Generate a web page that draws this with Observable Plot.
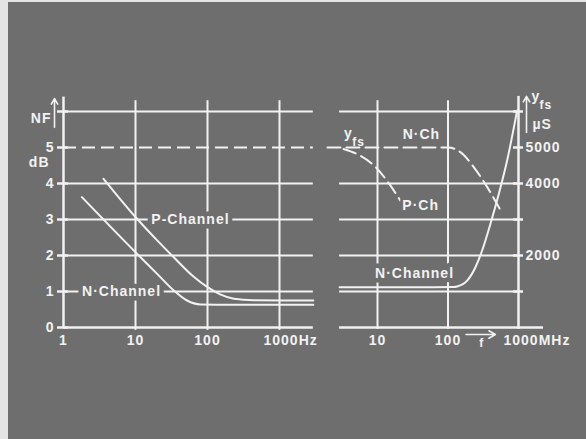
<!DOCTYPE html>
<html><head><meta charset="utf-8">
<script src="https://cdn.jsdelivr.net/npm/d3@7"></script>
<script src="https://cdn.jsdelivr.net/npm/@observablehq/plot@0.6"></script>
<style>
html,body{margin:0;padding:0;background:#e8e8e8;}
#wrap{position:relative;width:586px;height:439px;overflow:hidden;background:#e4e4e4;}
#bg{position:absolute;left:8px;top:2px;right:0;bottom:0;background:#6e6e6e;}
#wrap svg{position:absolute;left:0;top:0;}
svg text{letter-spacing:1px;font-weight:bold;}
</style></head><body><div id="wrap"><div id="bg"></div></div>
<script>
// ---- Left panel: noise figure vs frequency (Hz)
const nfTicks = [0, 1, 2, 3, 4, 5];
const nfGrid = [1, 2, 3, 4, 6];
const hzTicks = [1, 10, 100, 1000];
const hzLabels = ["1", "10", "100", "1000Hz"];
const hzEnd = 2950;
const nChannelHz = [1.8, 10, 20, 34, 52, 80, 230, 2950];
const nChannelNF = [3.62, 2.09, 1.49, 1.03, 0.75, 0.64, 0.63, 0.63];
const pChannelHz = [3.6, 10.5, 20, 34, 65, 100, 150, 232, 440, 2950];
const pChannelNF = [4.13, 3.02, 2.42, 1.95, 1.40, 1.12, 0.92, 0.80, 0.76, 0.75];

// ---- Right panel: y_fs vs frequency (MHz)
const yfsTicks = [1000, 2000, 3000, 4000, 5000, 6000];
const yfsLabelValues = [5000, 4000, 2000];
const yfsGrid = [1000, 2000, 3000, 4000, 6000];
const mhzTicks = [10, 100, 1000];
const mhzLabels = ["10", "100", "1000MHz"];
const mhzStart = 2.9, mhzEnd = 2265;
const nChannelMHz = [2.9, 60, 120, 135, 187, 246, 305, 400, 525, 690, 957];
const nChannelYfs = [1120, 1120, 1125, 1140, 1300, 1680, 2140, 2880, 3710, 4640, 6030];
const nChMHz = [1.95, 100, 150, 233, 360, 588];
const nChYfs = [5000, 5000, 4870, 4450, 3900, 3170];
const pChMHz = [3.3, 5.1, 8.9, 15.3, 21];
const pChYfs = [4960, 4820, 4500, 3940, 3530];

const W = "#f2f2f2", BG = "#6e6e6e";
const common = {
  width: 586, height: 439, margin: 0,
  style: {background: "transparent", fontFamily: "'Liberation Sans', Arial, sans-serif", fontSize: "14px", color: W, overflow: "visible"}
};
const nData = nChannelHz.map((f, i) => ({f, v: nChannelNF[i]}));
const pData = pChannelHz.map((f, i) => ({f, v: pChannelNF[i]}));

const left = Plot.plot({
  ...common,
  x: {type: "log", domain: [1, 1000], range: [63, 279], axis: null},
  y: {domain: [0, 6], range: [327, 111], axis: null},
  marks: [
    Plot.ruleY(nfGrid, {y: d => d, x1: 1, x2: hzEnd, stroke: W, strokeWidth: 2}),
    Plot.ruleY([5], {y: d => d, x1: 1, x2: hzEnd, stroke: W, strokeWidth: 2, strokeDasharray: "13,6"}),
    Plot.ruleX(hzTicks.slice(1), {x: d => d, y1: -0.08, y2: 6.3, stroke: W, strokeWidth: 2}),
    Plot.ruleY([0], {y: d => d, x1: 1, x2: hzEnd, stroke: W, strokeWidth: 2.5}),
    Plot.ruleX([1], {x: d => d, y1: 0, y2: 6.4, stroke: W, strokeWidth: 2.5}),
    Plot.ruleY(nfTicks.concat([6]), {y: d => d, x1: 1, x2: 1, insetLeft: -6, insetRight: -5, stroke: W, strokeWidth: 2.5}),
    Plot.line(nData, {x: "f", y: "v", stroke: W, strokeWidth: 2, curve: "monotone-x"}),
    Plot.line(pData, {x: "f", y: "v", stroke: W, strokeWidth: 2, curve: "monotone-x"}),
    Plot.text(["P-Channel"], {x: 58, y: 3, text: d => d, fill: W, stroke: BG, strokeWidth: 9}),
    Plot.text(["N·Channel"], {x: 6.4, y: 1, text: d => d, fill: W, stroke: BG, strokeWidth: 9}),
    Plot.text(nfTicks, {x: 1, y: d => d, text: d => String(d), dx: -9, textAnchor: "end", fill: W}),
    Plot.text(hzTicks.slice(0, 3), {x: d => d, y: 0, text: (d, i) => hzLabels[i], dy: 13, fill: W}),
    Plot.text([hzLabels[3]], {x: 1000, y: 0, text: d => d, dy: 13, dx: -16, textAnchor: "start", fill: W}),
    Plot.text(["NF"], {x: 1, y: 5.8, text: d => d, dx: -12, textAnchor: "end", fill: W}),
    Plot.text(["dB"], {x: 1, y: 4.58, text: d => d, dx: -14, textAnchor: "end", fill: W}),
    Plot.arrow([0], {x1: 1, x2: 1, y1: 5.56, y2: 6.36, dx: -9, stroke: W, strokeWidth: 1.6, headLength: 6})
  ]
});

const nChannel = nChannelMHz.map((f, i) => ({f, v: nChannelYfs[i]}));
const nCh = nChMHz.map((f, i) => ({f, v: nChYfs[i]}));
const pCh = pChMHz.map((f, i) => ({f, v: pChYfs[i]}));

const right = Plot.plot({
  ...common,
  x: {type: "log", domain: [10, 1000], range: [377, 518], axis: null},
  y: {domain: [0, 6000], range: [327, 111], axis: null},
  marks: [
    Plot.ruleY(yfsGrid, {y: d => d, x1: mhzStart, x2: 1000, stroke: W, strokeWidth: 2}),
    Plot.ruleX(mhzTicks.slice(0, 2), {x: d => d, y1: -50, y2: 6300, stroke: W, strokeWidth: 2}),
    Plot.ruleY([0], {y: d => d, x1: mhzStart, x2: mhzEnd, stroke: W, strokeWidth: 2.5}),
    Plot.ruleX([1000], {x: d => d, y1: -50, y2: 6420, stroke: W, strokeWidth: 2.5}),
    Plot.ruleY(yfsTicks, {y: d => d, x1: 1000, x2: 1000, insetLeft: -5, insetRight: -5, stroke: W, strokeWidth: 2.5}),
    Plot.line(nChannel, {x: "f", y: "v", stroke: W, strokeWidth: 2, curve: "monotone-x"}),
    Plot.line(nCh, {x: "f", y: "v", stroke: W, strokeWidth: 2, strokeDasharray: "13,6", curve: "monotone-x"}),
    Plot.line(pCh, {x: "f", y: "v", stroke: W, strokeWidth: 2, strokeDasharray: "13,6", curve: "monotone-x"}),
    Plot.text(["N·Channel"], {x: 33.5, y: 1500, text: d => d, fill: W, stroke: BG, strokeWidth: 9}),
    Plot.text(["N·Ch"], {x: 42, y: 5360, text: d => d, fill: W}),
    Plot.text(["P·Ch"], {x: 41, y: 3390, text: d => d, fill: W, stroke: BG, strokeWidth: 6}),
    Plot.text(["y"], {x: 3.35, y: 5380, text: d => d, textAnchor: "start", fill: W}),
    Plot.text(["fs"], {x: 4.4, y: 5150, text: d => d, textAnchor: "start", fill: W, fontSize: 12}),
    Plot.text(yfsLabelValues, {x: 1000, y: d => d, text: d => String(d), dx: 7, textAnchor: "start", fill: W}),
    Plot.text(mhzTicks.slice(0, 2), {x: d => d, y: 0, text: (d, i) => mhzLabels[i], dy: 13, fill: W}),
    Plot.text([mhzLabels[2]], {x: 1000, y: 0, text: d => d, dy: 13, dx: -15, textAnchor: "start", fill: W}),
    Plot.text(["y"], {x: 1000, y: 6420, text: d => d, dx: 13, textAnchor: "start", fill: W}),
    Plot.text(["fs"], {x: 1000, y: 6170, text: d => d, dx: 21, textAnchor: "start", fill: W, fontSize: 12}),
    Plot.text(["µS"], {x: 1000, y: 5640, text: d => d, dx: 14, textAnchor: "start", fill: W}),
    Plot.arrow([0], {x1: 1000, x2: 1000, y1: 5420, y2: 6420, dx: 8, stroke: W, strokeWidth: 1.6, headLength: 6}),
    Plot.arrow([0], {x1: 180, x2: 470, y1: 0, y2: 0, dy: 7, stroke: W, strokeWidth: 1.6, headLength: 7}),
    Plot.text(["f"], {x: 300, y: 0, text: d => d, dy: 16, fill: W, fontSize: 12})
  ]
});

document.getElementById("wrap").appendChild(left);
document.getElementById("wrap").appendChild(right);
</script></body></html>
